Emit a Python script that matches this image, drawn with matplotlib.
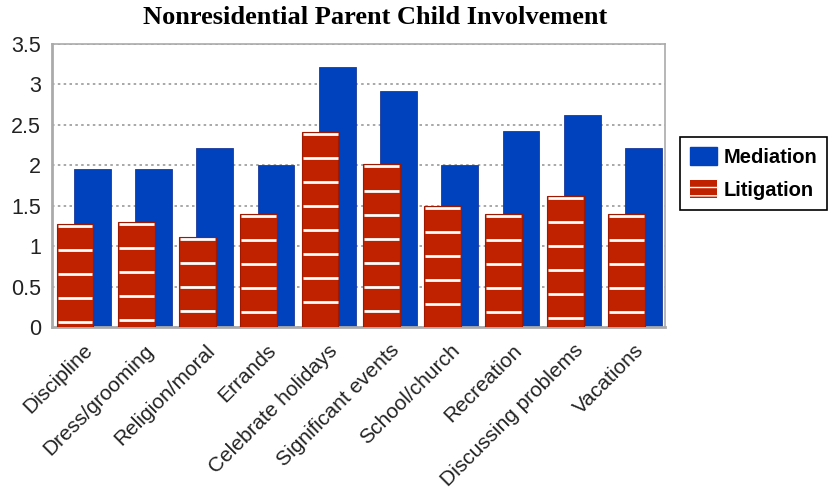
import matplotlib
matplotlib.use("Agg")
import matplotlib.pyplot as plt
from matplotlib.patches import Patch
import numpy as np

categories = ["Discipline", "Dress/grooming", "Religion/moral", "Errands",
              "Celebrate holidays", "Significant events", "School/church",
              "Recreation", "Discussing problems", "Vacations"]
mediation = [1.95, 1.95, 2.21, 2.0, 3.22, 2.92, 2.0, 2.42, 2.62, 2.21]
litigation = [1.28, 1.30, 1.11, 1.40, 2.41, 2.01, 1.50, 1.40, 1.62, 1.40]

BLUE = "#0041BE"
RED = "#C02200"

fig = plt.figure(figsize=(8.33, 5.04), dpi=100)
ax = fig.add_axes([52.3/833, 1-327/504, (665-52.3)/833, (327-44)/504])

x = np.arange(len(categories))
w = 0.6
ax.bar(x + 0.15, mediation, width=w, color=BLUE, edgecolor="#1a3a9a", linewidth=0.6, zorder=2)
ax.bar(x - 0.13, litigation, width=w, color=RED, edgecolor="#a01800", linewidth=0.8, zorder=3)

# white stripes on litigation bars
step = 0.297
for xi, h in zip(x, litigation):
    y = h - 0.025
    while y > 0.02:
        ax.hlines(y, xi - 0.13 - w/2 + 0.015, xi - 0.13 + w/2 - 0.015,
                  colors="white", linewidth=2.0, zorder=4)
        y -= step

ax.set_xlim(-0.5, 9.5)
ax.set_ylim(0, 3.5)
ax.set_yticks(np.arange(0, 3.51, 0.5))
ax.set_yticklabels(["0", "0.5", "1", "1.5", "2", "2.5", "3", "3.5"],
                   fontsize=15.5, family="Liberation Sans", color="#222222")
ax.set_xticks(x)
ax.set_xticklabels(categories, rotation=45, ha="right", rotation_mode="anchor",
                   fontsize=15, family="Liberation Sans", color="#222222")
ax.tick_params(length=0)
ax.tick_params(axis="y", pad=8)
ax.tick_params(axis="x", pad=10)
ax.yaxis.grid(True, linestyle=(0, (1.5, 2)), color="#999999", linewidth=1.2, zorder=0)
ax.set_axisbelow(True)
for s in ax.spines.values():
    s.set_color("#aaaaaa")
    s.set_linewidth(1.2)
ax.spines["left"].set_linewidth(2)
ax.spines["bottom"].set_linewidth(2)

fig.text(375/833, 1-17/504, "Nonresidential Parent Child Involvement",
         ha="center", va="center", fontsize=19, fontweight="bold",
         family="Liberation Serif")

handles = [Patch(facecolor=BLUE, edgecolor=BLUE, label="Mediation"),
           Patch(facecolor=RED, edgecolor="white", hatch="--", linewidth=0, label="Litigation")]
leg = fig.legend(handles=handles, loc="upper left", bbox_to_anchor=(680/833, 1-137/504),
                 frameon=True, fancybox=False, edgecolor="black", framealpha=1,
                 prop={"family": "Liberation Sans", "weight": "bold", "size": 14.5},
                 handlelength=1.35, handleheight=1.0, handletextpad=0.3,
                 borderpad=0.5, labelspacing=0.65, borderaxespad=0)
leg.get_frame().set_linewidth(1.2)

fig.savefig("out.png", dpi=100)
